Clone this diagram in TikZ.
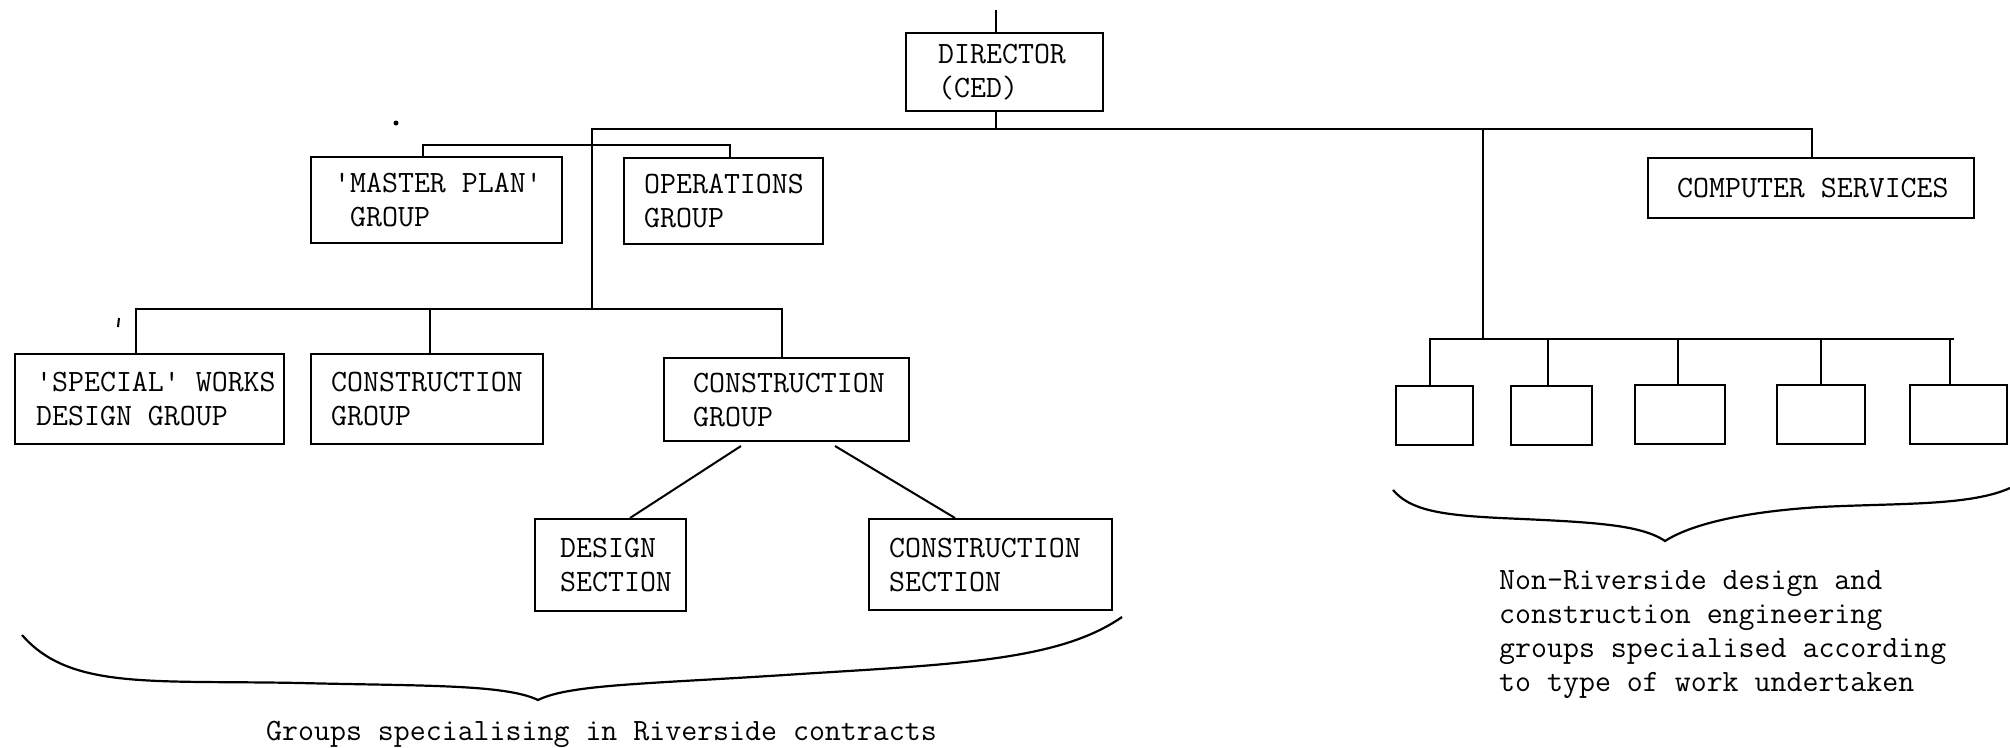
\documentclass[tikz,border=0pt]{standalone}
\usepackage{fontspec}
\setmonofont{Latin Modern Mono}[WordSpace={1,0,0}]
\begin{document}
\begin{tikzpicture}[x=1pt,y=-1pt,
  txt/.style={font=\fontsize{31}{34}\selectfont\ttfamily},
  ln/.style={line width=2.4pt},
  box/.style={draw,ln,anchor=north west,inner ysep=0pt,align=flush left,txt},
  ebox/.style={draw,ln,anchor=north west,inner sep=0pt,minimum height=59pt}]
\useasboundingbox (0,0) rectangle (2010,747);
% boxes
\node[box,minimum height=78pt,inner xsep=32pt,text width=133pt] (dir) at (905,32) {DIRECTOR\\(CED)};
\node[box,minimum height=86pt,inner xsep=23pt,text width=205pt] (master) at (310,156) {\textquotesingle MASTER~PLAN\textquotesingle\\\hphantom{G}GROUP};
\node[box,minimum height=86pt,inner xsep=20pt,text width=159pt] (ops) at (623,157) {OPERATIONS\\GROUP};
\node[box,minimum height=90pt,inner xsep=21pt,text width=227pt] (special) at (14,353) {\textquotesingle SPECIAL\textquotesingle~WORKS\\DESIGN~GROUP};
\node[box,minimum height=90pt,inner xsep=20pt,text width=192pt] (cga) at (310,353) {CONSTRUCTION\\GROUP};
\node[box,minimum height=83pt,inner xsep=29pt,text width=187pt] (cgb) at (663,357) {CONSTRUCTION\\GROUP};
\node[box,minimum height=92pt,inner xsep=25pt,text width=101pt] (ds) at (534,518) {DESIGN\\SECTION};
\node[box,minimum height=91pt,inner xsep=20pt,text width=203pt] (cs) at (868,518) {CONSTRUCTION\\SECTION};
\node[box,minimum height=60pt,inner xsep=29pt,text width=268pt] (comp) at (1647,157) {COMPUTER~SERVICES};
\node[ebox,minimum width=77pt] (ea) at (1395,385) {};
\node[ebox,minimum width=81pt] (eb) at (1510,385) {};
\node[ebox,minimum width=90pt] (ec) at (1634,384) {};
\node[ebox,minimum width=88pt] (ed) at (1776,384) {};
\node[ebox,minimum width=97pt] (ee) at (1909,384) {};
% coordinates
\coordinate (top) at (996,10);
\coordinate (mL) at (592,129);
\coordinate (mR) at (1812,129);
\coordinate (lowL) at (136,309);
\coordinate (lowR) at (782,309);
\coordinate (mpL) at (423,145);
\coordinate (mpR) at (730,145);
\coordinate (rv) at (1483,129);
\coordinate (rbL) at (1430,339);
\coordinate (rbR) at (1954,339);
% connectors
\draw[ln] (top) -- (top |- dir.north);
\draw[ln] (top |- dir.south) -- (top |- mL);
\draw[ln] (mL |- lowL) -- (mL) -- (mR) -- (mR |- comp.north);
\draw[ln] (mpL |- master.north) -- (mpL) -- (mpR) -- (mpR |- ops.north);
\draw[ln] (lowL |- special.north) -- (lowL) -- (lowR) -- (lowR |- cgb.north);
\draw[ln] (430,309) -- (430,309 |- cga.north);
\draw[line width=2pt] (741,446) -- (ds.north -| 630,0);
\draw[line width=2pt] (835,446) -- (cs.north -| 955,0);
\draw[ln] (rv) -- (rv |- rbL);
\draw[ln] (rbL |- ea.north) -- (rbL) -- (rbR);
\draw[ln] (1548,339) -- (1548,339 |- eb.north);
\draw[ln] (1678,339) -- (1678,339 |- ec.north);
\draw[ln] (1821,339) -- (1821,339 |- ed.north);
\draw[ln] (1950,339) -- (1950,339 |- ee.north);
% stray marks
\fill (396,123) circle (2.5);
\draw[line width=2pt] (119,318) -- (118,327);
% braces
\draw[line width=2.2pt] (22,635) .. controls (70,690) and (150,680) .. (300,683)
  .. controls (420,686) and (505,684) .. (538,700)
  .. controls (570,684) and (650,684) .. (800,674)
  .. controls (960,664) and (1060,660) .. (1122,617);
\draw[line width=2.2pt] (1393,490) .. controls (1410,510) and (1440,515) .. (1500,518)
  .. controls (1590,522) and (1640,524) .. (1665,541)
  .. controls (1690,525) and (1740,512) .. (1820,507)
  .. controls (1900,503) and (1970,506) .. (2010,488);
% captions
\node[txt,anchor=base west,inner sep=0pt] (capL) at (266,740) {Groups specialising in Riverside contracts};
\node[txt,anchor=north west,inner sep=0pt,align=flush left] (capR) at (1499,570) {Non-Riverside design and\\construction engineering\\groups specialised according\\to type of work undertaken};
\end{tikzpicture}
\end{document}
